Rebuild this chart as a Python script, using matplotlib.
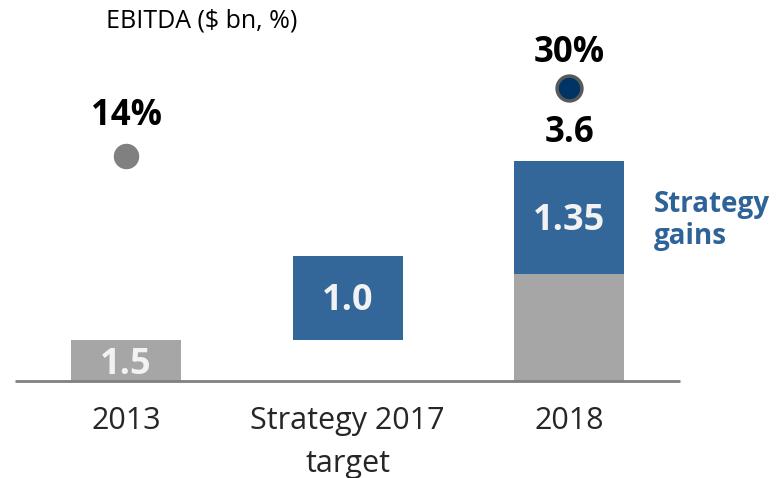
import matplotlib
matplotlib.use("Agg")
import matplotlib.pyplot as plt

plt.rcParams['font.family'] = ['Open Sans', 'DejaVu Sans']

# ---- data (chart is drawn "not to scale": heights) ----
categories = ["2013", "Strategy 2017\ntarget", "2018"]
base_heights = [41, 0, 107]          # grey segment heights (drawn units)
gain_bottoms = [0, 41, 107]          # blue segment bottoms
gain_heights = [0, 84, 113]          # blue segment heights
seg_labels = ["1.5", "1.0", "1.35"]  # labels printed inside bars
total_label = "3.6"
margin_x = [0, 2]
margin_y = [225, 293]                # drawn marker heights
margin_labels = ["14%", "30%"]

GREY = "#A6A6A6"
BLUE = "#336699"
DOT_GREY = "#808080"
DOT_NAVY = "#003366"

fig = plt.figure(figsize=(7.81, 4.78), dpi=100)
W, H = 781, 478
base_px = 381
ax = fig.add_axes([0, (H - base_px) / H, 1, base_px / H])
step = 221.7
x0 = 126
ax.set_xlim(-x0 / step, (W - x0) / step)
ax.set_ylim(0, base_px)
for s in ax.spines.values():
    s.set_visible(False)
ax.set_yticks([])
xs = list(range(len(categories)))
ax.set_xticks(xs)
ax.set_xticklabels(categories, fontsize=22, color="#262626", linespacing=1.55)
ax.tick_params(axis='x', length=0, pad=18)

bw = 0.496
ax.bar(xs, base_heights, width=bw, color=GREY, zorder=2)
ax.bar(xs, gain_heights, bottom=gain_bottoms, width=bw, color=BLUE, zorder=2)
ax.hlines(0, -0.5, 2.5, color="#808080", lw=2, zorder=3, clip_on=False)

# inside labels
ax.text(0, base_heights[0] / 2 - 5, seg_labels[0], ha='center', va='center',
        fontsize=26, fontweight='bold', color="#F2F2F2", zorder=4)
for i in (1, 2):
    ax.text(i, gain_bottoms[i] + gain_heights[i] / 2 - 3, seg_labels[i],
            ha='center', va='center', fontsize=26, fontweight='bold',
            color="#F2F2F2", zorder=4)

# total label
ax.annotate(total_label, (2, gain_bottoms[2] + gain_heights[2]),
            xytext=(0, 20), textcoords='offset points', ha='center', va='center',
            fontsize=25, fontweight='bold', color="black")

# margin markers
ax.scatter([margin_x[0]], [margin_y[0]], s=300, color=DOT_GREY, zorder=5, clip_on=False)
ax.scatter([margin_x[1]], [margin_y[1]], s=320, color=DOT_NAVY, edgecolors="#595959",
           linewidths=2.5, zorder=5, clip_on=False)
offs = [29, 25]
for x, y, lab, o in zip(margin_x, margin_y, margin_labels, offs):
    ax.annotate(lab, (x, y), xytext=(0, o), textcoords='offset points',
                ha='center', va='center', fontsize=25, fontweight='bold',
                color="black", annotation_clip=False)

ax.text((654 - x0) / step, gain_bottoms[2] + gain_heights[2] / 2 - 3, "Strategy\ngains",
        ha='left', va='center', fontsize=20, fontweight='bold', color="#2E6399",
        linespacing=1.15)

fig.text(106 / W, 1 - 21 / H, "EBITDA ($ bn, %)", ha='left', va='center',
         fontsize=18, color="black")

fig.savefig("out.png", dpi=100)
